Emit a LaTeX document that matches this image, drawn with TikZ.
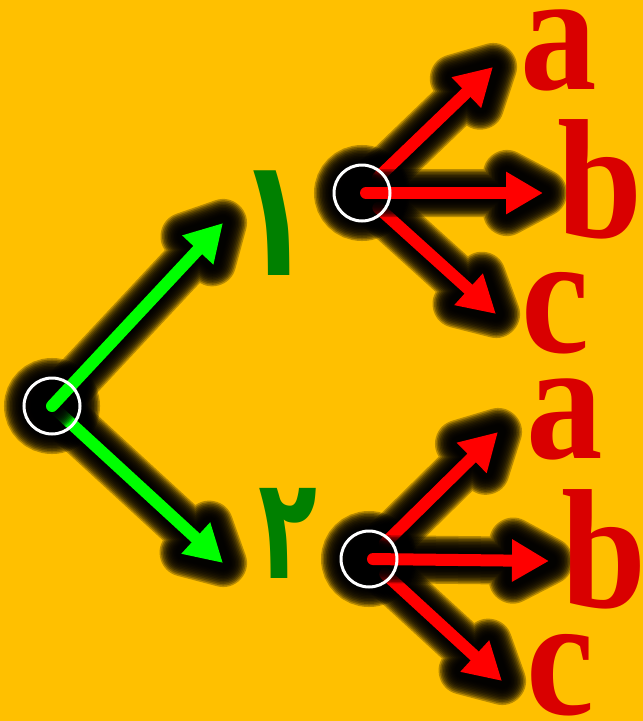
\documentclass[tikz,border=0pt]{standalone}
\usepackage{fontspec}
\setmainfont{Liberation Serif}
\newfontfamily\arabicfont[Script=Arabic]{DejaVu Sans}
\usetikzlibrary{arrows.meta,calc}
\definecolor{bgorange}{HTML}{FFC000}
\definecolor{letterred}{HTML}{D90000}
\definecolor{digitgreen}{HTML}{008000}
\definecolor{arrowgreen}{HTML}{00FF00}
\pgfdeclarelayer{back}
\pgfsetlayers{back,main}
\newcommand{\nar}[1]{\scalebox{.9}[1]{#1}}
\newcommand{\glowline}[2]{%
  \foreach \w in {48,45,...,14}
    \draw[black,draw opacity=.28,line width=\w pt,line cap=round,line join=round]
      (#1) -- (#2)
      ($(#2)!36pt!(#1)!19pt!90:(#2)$) -- (#2) -- ($(#2)!36pt!(#1)!19pt!-90:(#2)$) -- cycle;}
\newcommand{\glowring}[1]{%
  \foreach \w in {40,37,...,6}
    \draw[black,draw opacity=.28,line width=\w pt] (#1.center) circle (28pt);}

\begin{document}
\begin{tikzpicture}[x=1pt,y=-1pt,
  ring/.style={circle,draw=white,line width=3pt,minimum size=56pt,inner sep=0pt},
  lbl/.style={text=letterred,font=\fontsize{170}{170}\selectfont\bfseries,inner sep=0pt,anchor=base,text depth=0pt,text height=78pt},
  tall/.style={text height=114pt},
  digit/.style={text=digitgreen,inner sep=0pt,anchor=base,text depth=0pt},
  arr/.style={line width=12pt,line cap=round,-{Triangle[length=37pt,width=40pt]}}]
\useasboundingbox (0,0) rectangle (643,721);
\node[ring] (root) at (52,406) {};
\node[ring] (top) at (362,193) {};
\node[ring] (bot) at (369,559) {};
\node[digit,text height=106pt,font=\arabicfont\bfseries\fontsize{165}{165}\selectfont] (one) at (274,275) {\scalebox{.75}[1]{١}};
\node[digit,text height=94pt,font=\arabicfont\bfseries\fontsize{142}{142}\selectfont] (two) at (288,578) {\scalebox{.68}[1]{٢}};
\node[lbl] (ta) at (559,89) {\nar{a}};
\node[lbl,tall] (tb) at (600,237) {\nar{b}};
\node[lbl] (tc) at (555,352) {\nar{c}};
\node[lbl] (ba) at (565,458) {\nar{a}};
\node[lbl,tall] (bb) at (604,607) {\nar{b}};
\node[lbl] (bc) at (560,714) {\nar{c}};
\coordinate (g1) at (223,223);
\coordinate (g2) at (223,563);
\coordinate (ta tip) at (493,67);
\coordinate (tb tip) at (543,193);
\coordinate (tc tip) at (496,314);
\coordinate (ba tip) at (498,432);
\coordinate (bb tip) at (549,561);
\coordinate (bc tip) at (502,681);
\begin{pgfonlayer}{back}
\fill[bgorange] (0,0) rectangle (643,721);
\glowring{root}
\glowline{root.center}{g2}
\draw[arr,arrowgreen,shorten <=6pt] (root.center) -- (g2);
\glowline{root.center}{g1}
\draw[arr,arrowgreen] (root.center) -- (g1);
\glowring{top}
\glowline{top.center}{ta tip}
\draw[arr,red,shorten <=22pt] (top.center) -- (ta tip);
\glowline{top.center}{tc tip}
\draw[arr,red,shorten <=22pt] (top.center) -- (tc tip);
\glowline{top.center}{tb tip}
\draw[arr,red,shorten <=4pt] (top.center) -- (tb tip);
\glowring{bot}
\glowline{bot.center}{ba tip}
\draw[arr,red,shorten <=22pt] (bot.center) -- (ba tip);
\glowline{bot.center}{bc tip}
\draw[arr,red,shorten <=22pt] (bot.center) -- (bc tip);
\glowline{bot.center}{bb tip}
\draw[arr,red,shorten <=4pt] (bot.center) -- (bb tip);
\end{pgfonlayer}
\end{tikzpicture}
\end{document}
